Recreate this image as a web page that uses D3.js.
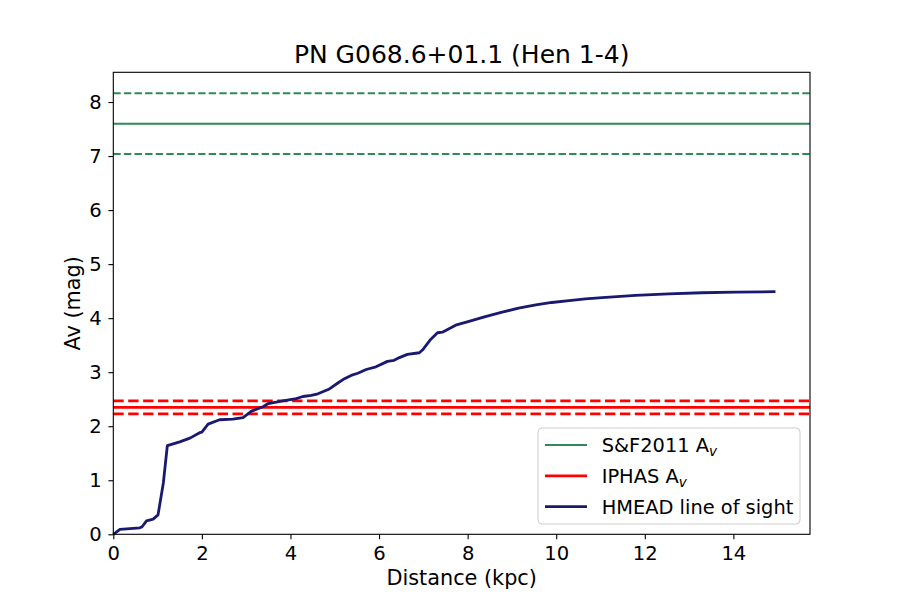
<!DOCTYPE html>
<html><head><meta charset="utf-8">
<script src="https://cdn.jsdelivr.net/npm/d3@7"></script>
<style>body{margin:0;background:#fff;} text{font-family:"DejaVu Sans",sans-serif;}</style>
</head><body>
<svg id="c" width="900" height="600"></svg>
<script>
const distance = [0, 0.15, 0.6, 0.65, 0.75, 0.9, 1.01, 1.13, 1.22, 1.5, 1.73, 1.95, 2.0, 2.14, 2.4, 2.7, 2.93, 3.12, 3.38, 3.5, 3.83, 4.13, 4.28, 4.47, 4.62, 4.88, 5.07, 5.22, 5.37, 5.52, 5.71, 5.93, 6.19, 6.34, 6.46, 6.64, 6.91, 6.98, 7.17, 7.32, 7.43, 7.73, 8.03, 8.4, 8.78, 9.15, 9.54, 9.9, 10.29, 10.66, 11.04, 11.79, 12.54, 13.29, 14.04, 14.95];
const av = [0.0, 0.09, 0.12, 0.14, 0.25, 0.28, 0.36, 0.95, 1.64, 1.71, 1.78, 1.88, 1.89, 2.04, 2.12, 2.13, 2.16, 2.28, 2.36, 2.42, 2.47, 2.51, 2.55, 2.57, 2.60, 2.69, 2.80, 2.88, 2.94, 2.98, 3.05, 3.10, 3.20, 3.22, 3.27, 3.33, 3.36, 3.41, 3.61, 3.73, 3.74, 3.87, 3.94, 4.03, 4.11, 4.185, 4.245, 4.29, 4.325, 4.355, 4.38, 4.42, 4.45, 4.47, 4.48, 4.49];
const sf2011 = {value: 7.6, err: 0.56};
const iphas = {value: 2.35, err: 0.12};
const xTicks = [0, 2, 4, 6, 8, 10, 12, 14];
const yTicks = [0, 1, 2, 3, 4, 5, 6, 7, 8];
const xDomain = [0, 15.73];
const yDomain = [0, 8.55];
const titleText = "PN G068.6+01.1 (Hen 1-4)";
const xLabel = "Distance (kpc)";
const yLabel = "Av (mag)";

const svg = d3.select("#c");
const L = 113.3, R = 810, T = 72.3, B = 534.3;
const x = d3.scaleLinear().domain(xDomain).range([L, R]);
const y = d3.scaleLinear().domain(yDomain).range([B, T]);

const green = "#2e8b57", red = "#ff0000", navy = "#191970";

function hline(v, color, w, dash) {
  svg.append("line").attr("x1", L).attr("x2", R).attr("y1", y(v)).attr("y2", y(v))
    .attr("stroke", color).attr("stroke-width", w).attr("stroke-dasharray", dash || null);
}
hline(sf2011.value, green, 2, null);
hline(sf2011.value + sf2011.err, green, 2, "7.4,3.2");
hline(sf2011.value - sf2011.err, green, 2, "7.4,3.2");
hline(iphas.value, red, 2.8, null);
hline(iphas.value + iphas.err, red, 2.8, "10.4,4.5");
hline(iphas.value - iphas.err, red, 2.8, "10.4,4.5");

const line = d3.line().x((d,i)=>x(distance[i])).y((d,i)=>y(av[i]));
svg.append("path").datum(av).attr("d", line).attr("fill","none")
  .attr("stroke", navy).attr("stroke-width", 2.8).attr("stroke-linejoin","round");

// axes
const xAxis = d3.axisBottom(x).tickValues(xTicks).tickSize(4.9).tickPadding(6.5).tickFormat(d3.format("d"));
const gx = svg.append("g").attr("transform", `translate(0,${B})`).call(xAxis);
const yAxis = d3.axisLeft(y).tickValues(yTicks).tickSize(4.9).tickPadding(6.7).tickFormat(d3.format("d"));
const gy = svg.append("g").attr("transform", `translate(${L},0)`).call(yAxis);
[gx, gy].forEach(g => {
  g.select(".domain").remove();
  g.selectAll(".tick line").attr("stroke", "#000").attr("stroke-width", 1.1);
  g.selectAll(".tick text").attr("font-size", 19.6).attr("fill", "#000").attr("font-family", "DejaVu Sans");
});
svg.append("rect").attr("x", L).attr("y", T).attr("width", R-L).attr("height", B-T)
  .attr("fill","none").attr("stroke","#000").attr("stroke-width",1.1);

svg.append("text").attr("x", (L+R)/2).attr("y", 63.3).attr("text-anchor","middle")
  .attr("font-size", 25).text(titleText);
svg.append("text").attr("x", (L+R)/2).attr("y", 585).attr("text-anchor","middle")
  .attr("font-size", 20.8).text(xLabel);
svg.append("text").attr("transform", `translate(80,${(T+B)/2}) rotate(-90)`).attr("text-anchor","middle")
  .attr("font-size", 20.8).text(yLabel);

// legend
const lg = svg.append("g");
lg.append("rect").attr("x", 538).attr("y", 428).attr("width", 262).attr("height", 96).attr("rx", 4)
  .attr("fill", "#fff").attr("fill-opacity", 0.8).attr("stroke", "#cccccc").attr("stroke-width", 1);
const entries = [
  {label: "S&F2011 A", sub: "v", color: green, w: 2},
  {label: "IPHAS A", sub: "v", color: red, w: 2.8},
  {label: "HMEAD line of sight", sub: null, color: navy, w: 2.8}
];
entries.forEach((e, i) => {
  const cy = 445 + i * 30.8;
  lg.append("line").attr("x1", 545).attr("x2", 587).attr("y1", cy).attr("y2", cy)
    .attr("stroke", e.color).attr("stroke-width", e.w);
  const t = lg.append("text").attr("x", 601.7).attr("y", cy + 7).attr("font-size", 19.4).text(e.label);
  if (e.sub) t.append("tspan").attr("font-size", 13.6).attr("font-style","italic").attr("dy", 4).text(e.sub);
});
</script>
</body></html>
